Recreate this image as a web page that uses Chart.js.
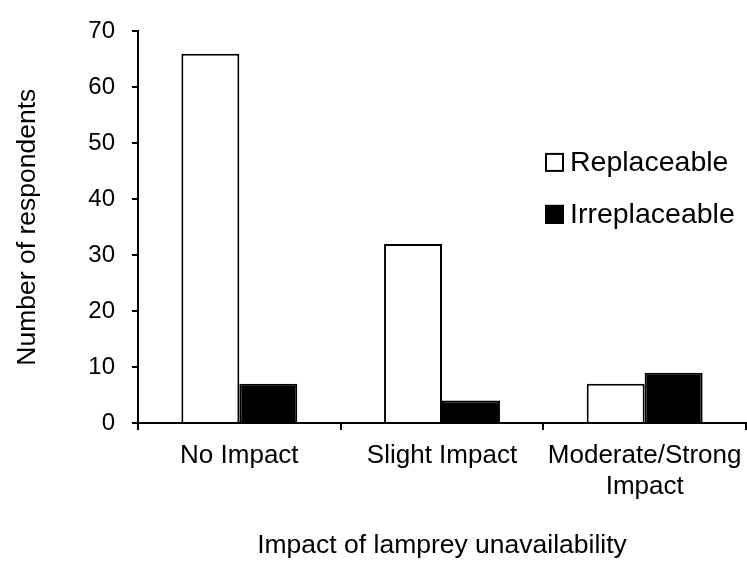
<!DOCTYPE html>
<html>
<head>
<meta charset="utf-8">
<script src="https://cdn.jsdelivr.net/npm/chart.js@4"></script>
<style>
    html, body { margin: 0; padding: 0; background: #fff; }
    #wrap { width: 747px; height: 564px; }
</style>
</head>
<body>
<div id="wrap"><canvas id="impactChart" width="747" height="564"></canvas></div>
<script>
// data
const categories = ['No Impact', 'Slight Impact', ['Moderate/Strong', 'Impact']];
const seriesNames = ['Replaceable', 'Irreplaceable'];
const replaceable = [66, 32, 7];
const irreplaceable = [7, 4, 9];
const yMin = 0;
const yMax = 70;
const yStep = 10;
const xTitle = 'Impact of lamprey unavailability';
const yTitle = 'Number of respondents';

const fontFamily = '"Liberation Sans", Arial, sans-serif';

// legend drawn inside the plot, right side, like the original
const insideLegend = {
    id: 'insideLegend',
    afterDraw(chart) {
        const { ctx, chartArea } = chart;
        const x = chartArea.right - 201;
        let y = chartArea.top + 131;
        ctx.save();
        ctx.font = `28.5px ${fontFamily}`;
        ctx.textBaseline = 'middle';
        chart.data.datasets.forEach(ds => {
            ctx.fillStyle = ds.backgroundColor;
            ctx.fillRect(x, y - 9.5, 19, 19);
            ctx.lineWidth = 2;
            ctx.strokeStyle = ds.borderColor;
            ctx.strokeRect(x + 1, y - 8.5, 17, 17);
            ctx.fillStyle = '#000';
            ctx.fillText(ds.label, x + 25, y + 1);
            y += 52;
        });
        ctx.restore();
    }
};

const ctx = document.getElementById('impactChart').getContext('2d');
new Chart(ctx, {
    type: 'bar',
    data: {
        labels: categories,
        datasets: [
            {
                label: seriesNames[0],
                data: replaceable,
                backgroundColor: '#ffffff',
                borderColor: '#000000',
                borderWidth: 2
            },
            {
                label: seriesNames[1],
                data: irreplaceable,
                backgroundColor: '#000000',
                borderColor: '#000000',
                borderWidth: 2
            }
        ]
    },
    options: {
        responsive: false,
        devicePixelRatio: 1,
        animation: false,
        layout: { padding: { top: 23, right: 1, left: 0, bottom: 0 } },
        datasets: {
            bar: { categoryPercentage: 0.572, barPercentage: 1.0 }
        },
        plugins: {
            legend: { display: false },
            tooltip: { enabled: false }
        },
        scales: {
            x: {
                grid: {
                    offset: true,
                    drawOnChartArea: false,
                    drawTicks: true,
                    tickLength: 7,
                    color: '#000',
                    lineWidth: 2
                },
                border: { display: true, color: '#000', width: 2 },
                ticks: {
                    color: '#000',
                    padding: 10,
                    maxRotation: 0,
                    autoSkip: false,
                    font: { family: fontFamily, size: 26, lineHeight: 1.2 }
                },
                title: {
                    display: true,
                    text: xTitle,
                    color: '#000',
                    font: { family: fontFamily, size: 26.5, lineHeight: 1.2 },
                    padding: { top: 0, bottom: 2 }
                },
                afterFit(scale) {
                    scale.height = 141;
                    // the long last label may hang past the plot edge
                    scale.paddingLeft = 0;
                    scale.paddingRight = 0;
                }
            },
            y: {
                min: yMin,
                max: yMax,
                grid: {
                    drawOnChartArea: false,
                    drawTicks: true,
                    tickLength: 6,
                    color: '#000',
                    lineWidth: 2
                },
                border: { display: true, color: '#000', width: 2 },
                ticks: {
                    stepSize: yStep,
                    color: '#000',
                    padding: 17,
                    font: { family: fontFamily, size: 24 }
                },
                title: {
                    display: true,
                    text: yTitle,
                    color: '#000',
                    font: { family: fontFamily, size: 26.5, lineHeight: 1.2 },
                    padding: { top: 12, bottom: 0 }
                },
                afterFit(scale) { scale.width = 138; }
            }
        }
    },
    plugins: [insideLegend]
});
</script>
</body>
</html>
